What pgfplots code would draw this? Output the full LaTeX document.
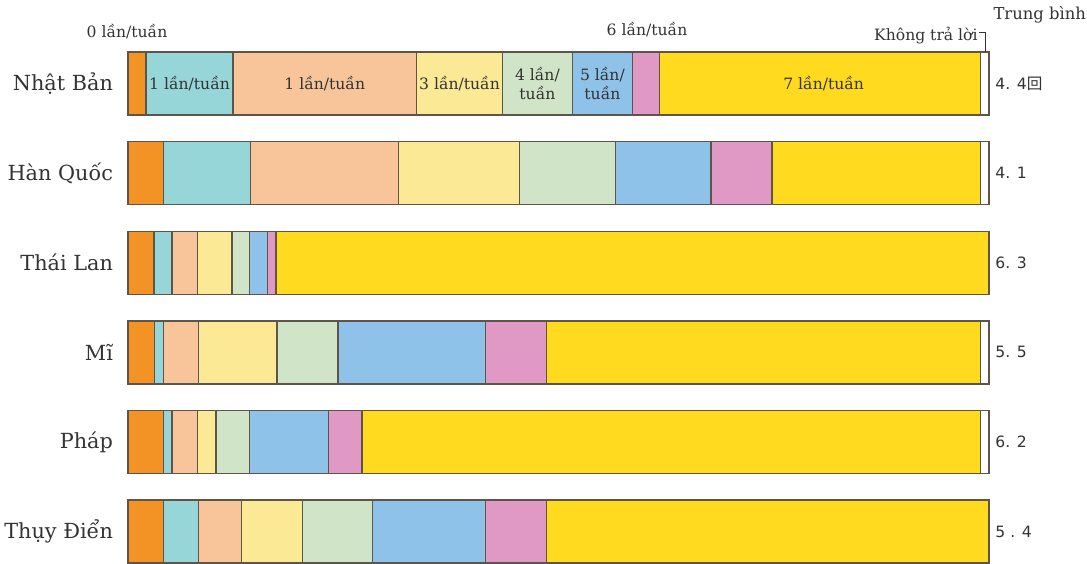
\documentclass[border=0pt]{standalone}
\usepackage{fontspec}
\setmainfont{DejaVu Serif}
\newfontfamily\avgfont{DejaVu Sans}
\newfontfamily\cjk{Noto Sans CJK SC}
\usepackage{pgfplots}
\pgfplotsset{compat=1.18}

\definecolor{c0}{HTML}{F39325}
\definecolor{c1}{HTML}{96D5D8}
\definecolor{c2}{HTML}{F8C59B}
\definecolor{c3}{HTML}{FBE995}
\definecolor{c4}{HTML}{D0E5C8}
\definecolor{c5}{HTML}{8EC2E8}
\definecolor{c6}{HTML}{E098C4}
\definecolor{c7}{HTML}{FFDA1F}
\definecolor{edge}{HTML}{5E5448}
\definecolor{txt}{HTML}{333333}

\tikzset{
  seg/.style={font=\fontsize{7.8}{9.6}\selectfont, text=txt, inner sep=0pt, align=center},
  avg/.style={font=\avgfont\fontsize{7.8}{9}\selectfont, text=txt, anchor=west, inner sep=0pt, xshift=3pt},
  top/.style={font=\fontsize{7.8}{9}\selectfont, text=txt, inner sep=0pt},
}

\begin{document}
\begin{tikzpicture}[x=1pt,y=1pt]
\useasboundingbox (0,0) rectangle (543.5,281.5);
\begin{axis}[
    at={(64pt,-6.65pt)}, anchor=south west,
    scale only axis, width=430.5pt, height=268.8pt,
    xbar stacked, bar width=31.5pt,
    xmin=0, xmax=100, ymin=-0.5, ymax=5.5, y dir=reverse,
    xtick=\empty, ytick={0,...,5},
    yticklabels={Nhật Bản, Hàn Quốc, Thái Lan, Mĩ, Pháp, Thụy Điển},
    yticklabel style={font=\fontsize{10.4}{12}\selectfont, text=txt, anchor=east, xshift=-4pt},
    axis line style={draw=none}, major tick length=0pt,
    every axis plot/.append style={draw=edge, line width=0.7pt},
    clip=false,
  ]
  % 0 lan/tuan
  \addplot[fill=c0] coordinates {(2.1,0) (4.1,1) (3.0,2) (3.1,3) (4.1,4) (4.1,5)};
  % 1 lan/tuan
  \addplot[fill=c1] coordinates {(10.1,0) (10.1,1) (2.1,2) (1.0,3) (1.0,4) (4.1,5)};
  % 2 lan/tuan
  \addplot[fill=c2] coordinates {(21.3,0) (17.2,1) (3.0,2) (4.1,3) (3.0,4) (5.0,5)};
  % 3 lan/tuan
  \addplot[fill=c3] coordinates {(10.0,0) (14.1,1) (4.0,2) (9.1,3) (2.1,4) (7.1,5)};
  % 4 lan/tuan
  \addplot[fill=c4] coordinates {(8.1,0) (11.1,1) (2.0,2) (7.1,3) (3.9,4) (8.1,5)};
  % 5 lan/tuan
  \addplot[fill=c5] coordinates {(7.0,0) (11.1,1) (2.1,2) (17.1,3) (9.2,4) (13.1,5)};
  % 6 lan/tuan
  \addplot[fill=c6] coordinates {(3.1,0) (7.1,1) (1.0,2) (7.1,3) (3.9,4) (7.1,5)};
  % 7 lan/tuan
  \addplot[fill=c7] coordinates {(37.3,0) (24.2,1) (82.8,2) (50.4,3) (71.8,4) (51.4,5)};
  % khong tra loi
  \addplot[fill=white] coordinates {(1.0,0) (1.0,1) (0,2) (1.0,3) (1.0,4) (0,5)};

  \coordinate (l1) at (axis cs:7.15,0);
  \coordinate (l2) at (axis cs:22.85,0);
  \coordinate (l3) at (axis cs:38.5,0);
  \coordinate (l4) at (axis cs:47.55,0);
  \coordinate (l5) at (axis cs:55.1,0);
  \coordinate (l7) at (axis cs:80.8,0);

  \node[avg] at (axis cs:100,0) {4. 4{\cjk 回}};
  \node[avg] at (axis cs:100,1) {4. 1};
  \node[avg] at (axis cs:100,2) {6. 3};
  \node[avg] at (axis cs:100,3) {5. 5};
  \node[avg] at (axis cs:100,4) {6. 2};
  \node[avg] at (axis cs:100,5) {5 . 4};
\end{axis}
\node[seg] at (l1) {1 lần/tuần};
\node[seg] at (l2) {1 lần/tuần};
\node[seg] at (l3) {3 lần/tuần};
\node[seg] at (l4) {4 lần/\\tuần};
\node[seg] at (l5) {5 lần/\\tuần};
\node[seg] at (l7) {7 lần/tuần};
\node[top] at (63.5,265.5) {0 lần/tuần};
\node[top] at (323.5,266.5) {6 lần/tuần};
\node[top, anchor=east] at (489,263.5) {Không trả lời};
\node[top, anchor=east, font=\fontsize{8.2}{10}\selectfont] at (543.2,274) {Trung bình};
\draw[txt, line width=0.5pt] (489.5,265) -- (492.5,265) -- (492.5,255.5);
\end{tikzpicture}
\end{document}
